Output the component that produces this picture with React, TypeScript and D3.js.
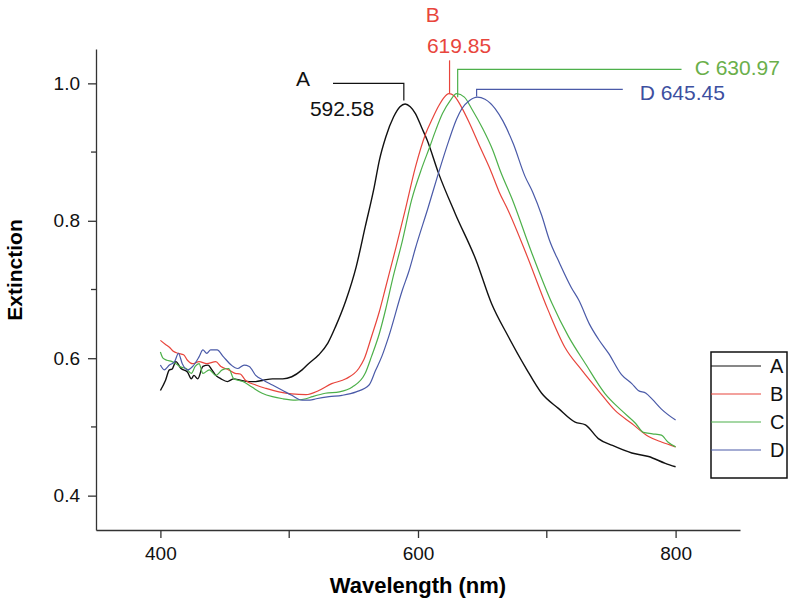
import React, { useEffect, useRef } from 'react';
import * as d3 from 'd3';

// spectra: [wavelength nm, extinction]
const seriesA: [number, number][] = [
  [400, 0.553], [404, 0.568], [407, 0.583], [409, 0.584], [412, 0.595], [416, 0.585],
  [421, 0.58], [424, 0.57], [426, 0.575], [429, 0.57], [433, 0.588], [437, 0.59],
  [440, 0.583], [443, 0.575], [447, 0.57], [452, 0.566], [457, 0.57], [462, 0.568],
  [469, 0.566], [474, 0.566], [480, 0.568], [487, 0.57], [495, 0.57], [502, 0.573],
  [510, 0.583], [515, 0.592], [523, 0.605], [530, 0.622], [536, 0.646], [544, 0.684],
  [552, 0.733], [559, 0.791], [566, 0.849], [570, 0.888], [575, 0.922], [581, 0.951],
  [586, 0.966], [590, 0.97], [594, 0.966], [598, 0.956], [603, 0.935], [607, 0.918],
  [616, 0.869], [629, 0.81], [645, 0.743], [657, 0.68], [670, 0.632], [684, 0.585],
  [696, 0.549], [709, 0.527], [722, 0.507], [730, 0.503], [740, 0.483], [751, 0.473],
  [766, 0.462], [779, 0.457], [792, 0.447], [800, 0.442]
];

const seriesB: [number, number][] = [
  [400, 0.626], [404, 0.62], [407, 0.616], [410, 0.61], [414, 0.607], [418, 0.605],
  [421, 0.597], [425, 0.592], [430, 0.595], [436, 0.592], [443, 0.595], [447, 0.588],
  [453, 0.583], [458, 0.578], [462, 0.577], [466, 0.568], [474, 0.561], [482, 0.556],
  [492, 0.551], [502, 0.548], [513, 0.547], [523, 0.553], [533, 0.563], [544, 0.57],
  [554, 0.585], [558, 0.598], [564, 0.632], [570, 0.668], [575, 0.704], [583, 0.762],
  [590, 0.815], [598, 0.878], [606, 0.927], [611, 0.948], [616, 0.967], [620, 0.979],
  [624, 0.985], [628, 0.982], [633, 0.968], [640, 0.942], [648, 0.908], [656, 0.875],
  [663, 0.842], [670, 0.815], [684, 0.752], [701, 0.67], [714, 0.616], [727, 0.583],
  [740, 0.553], [753, 0.524], [766, 0.505], [779, 0.486], [789, 0.478], [800, 0.471]
];

const seriesC: [number, number][] = [
  [400, 0.609], [402, 0.6], [405, 0.597], [409, 0.595], [412, 0.592], [416, 0.587],
  [420, 0.585], [424, 0.578], [427, 0.588], [430, 0.592], [433, 0.578], [438, 0.583],
  [443, 0.575], [448, 0.583], [453, 0.585], [457, 0.57], [464, 0.566], [471, 0.558],
  [479, 0.549], [487, 0.544], [495, 0.541], [505, 0.539], [513, 0.541], [518, 0.544],
  [528, 0.549], [539, 0.551], [549, 0.558], [559, 0.578], [564, 0.603], [570, 0.636],
  [575, 0.672], [580, 0.713], [588, 0.772], [595, 0.83], [603, 0.877], [609, 0.907],
  [614, 0.933], [619, 0.956], [625, 0.975], [630, 0.985], [636, 0.98], [642, 0.962],
  [650, 0.935], [658, 0.903], [664, 0.872], [673, 0.832], [688, 0.755], [704, 0.68],
  [717, 0.631], [730, 0.592], [745, 0.549], [758, 0.524], [769, 0.505], [775, 0.492],
  [782, 0.49], [789, 0.488], [794, 0.478], [800, 0.471]
];

const seriesD: [number, number][] = [
  [400, 0.59], [403, 0.583], [407, 0.59], [411, 0.595], [414, 0.607], [417, 0.592],
  [421, 0.583], [425, 0.588], [430, 0.602], [433, 0.612], [436, 0.607], [439, 0.612],
  [444, 0.612], [449, 0.602], [455, 0.59], [460, 0.585], [465, 0.59], [469, 0.588],
  [474, 0.575], [480, 0.568], [487, 0.561], [495, 0.553], [502, 0.546], [510, 0.539],
  [516, 0.539], [521, 0.541], [531, 0.544], [541, 0.546], [552, 0.551], [562, 0.561],
  [567, 0.582], [572, 0.603], [577, 0.63], [588, 0.7], [593, 0.727], [598, 0.76],
  [608, 0.82], [616, 0.87], [624, 0.917], [630, 0.948], [634, 0.963], [640, 0.975],
  [646, 0.98], [652, 0.977], [660, 0.963], [666, 0.945], [674, 0.912], [683, 0.865],
  [689, 0.842], [696, 0.808], [702, 0.772], [710, 0.738], [719, 0.703], [725, 0.684],
  [733, 0.65], [740, 0.628], [748, 0.607], [758, 0.576], [766, 0.563], [771, 0.553],
  [777, 0.549], [782, 0.54], [789, 0.526], [800, 0.51]
];

const seriesNames = ['A', 'B', 'C', 'D'];
const seriesColors = ['#111111', '#e8453c', '#4db04a', '#4a5aa8'];
const labelColors = ['#111111', '#e8453c', '#6aaf4a', '#3d4fa0'];

const xMajorTicks = [400, 600, 800];
const xMinorTicks = [500, 700];
const yMajorTicks = [0.4, 0.6, 0.8, 1.0];
const yMinorTicks = [0.5, 0.7, 0.9];

// peak call-outs, in data units
const peakLabels = [
  { name: 'A', peak: '592.58', anchor: 589, from: 0.975, level: 1.0, end: 534 },
  { name: 'B', peak: '619.85', anchor: 624.5, from: 0.9855, level: 1.0335, end: 624.5 },
  { name: 'C', peak: '630.97', anchor: 630.8, from: 0.9796, level: 1.0204, end: 804.6 },
  { name: 'D', peak: '645.45', anchor: 645.5, from: 0.981, level: 0.9913, end: 759 }
];

const W = 795;
const H = 607;
const FONT = '"Liberation Sans", Arial, sans-serif';

const App = () => {
  const ref = useRef<SVGSVGElement>(null);

  useEffect(() => {
    const svg = d3.select(ref.current);
    svg.selectAll('*').remove();

    const left = 96, right = 740, top = 49, bottom = 530;
    const x = d3.scaleLinear().domain([350, 850]).range([left, right]);
    const y = d3.scaleLinear().domain([0.35, 1.05]).range([bottom, top]);

    const axisColor = '#333';

    // x axis
    const gx = svg.append('g').attr('transform', `translate(0,${bottom})`);
    gx.call(
      d3.axisBottom(x).tickValues(xMajorTicks).tickFormat(d3.format('d'))
        .tickSize(8).tickSizeOuter(0).tickPadding(9)
    );
    xMinorTicks.forEach(t => {
      gx.append('line').attr('x1', x(t)).attr('x2', x(t)).attr('y1', 0).attr('y2', 8)
        .attr('stroke', axisColor).attr('stroke-width', 1.3);
    });

    // y axis
    const gy = svg.append('g').attr('transform', `translate(${left},0)`);
    gy.call(
      d3.axisLeft(y).tickValues(yMajorTicks).tickFormat(d3.format('.1f'))
        .tickSize(8).tickSizeOuter(0).tickPadding(8)
    );
    yMinorTicks.forEach(t => {
      gy.append('line').attr('x1', -5).attr('x2', 0).attr('y1', y(t)).attr('y2', y(t))
        .attr('stroke', axisColor).attr('stroke-width', 1.3);
    });

    [gx, gy].forEach(g => {
      g.select('.domain').attr('stroke', axisColor).attr('stroke-width', 1.3);
      g.selectAll('.tick line').attr('stroke', axisColor).attr('stroke-width', 1.3);
      g.selectAll('.tick text').attr('fill', '#111').style('font-family', FONT).style('font-size', '19px');
    });

    // axis titles
    svg.append('text')
      .attr('x', (left + right) / 2).attr('y', 593)
      .attr('text-anchor', 'middle')
      .style('font-family', FONT).style('font-size', '22px').style('font-weight', 'bold')
      .text('Wavelength (nm)');
    svg.append('text')
      .attr('transform', 'translate(22,270) rotate(-90)')
      .attr('text-anchor', 'middle')
      .style('font-family', FONT).style('font-size', '21px').style('font-weight', 'bold')
      .text('Extinction');

    // spectra
    const line = d3.line<[number, number]>()
      .x(d => x(d[0])).y(d => y(d[1]))
      .curve(d3.curveMonotoneX);
    const allSeries = [seriesA, seriesB, seriesC, seriesD];
    svg.append('g').selectAll('path')
      .data(allSeries)
      .join('path')
      .attr('d', d => line(d))
      .attr('fill', 'none')
      .attr('stroke', (d, i) => seriesColors[i])
      .attr('stroke-width', (d, i) => (i === 0 ? 1.4 : 1.2));

    // peak call-outs
    const ann = svg.append('g').style('font-family', FONT).style('font-size', '21px');
    peakLabels.forEach((p, i) => {
      const path = d3.path();
      if (p.name === 'A') {
        path.moveTo(x(p.end), y(p.level));
        path.lineTo(x(p.anchor), y(p.level));
        path.lineTo(x(p.anchor), y(p.from));
      } else {
        path.moveTo(x(p.anchor), y(p.from));
        path.lineTo(x(p.anchor), y(p.level));
        path.lineTo(x(p.end), y(p.level));
      }
      ann.append('path').attr('d', path.toString()).attr('fill', 'none')
        .attr('stroke', seriesColors[i]).attr('stroke-width', 1.2);
    });
    ann.append('text').attr('x', x(505.3)).attr('y', y(0.9956)).attr('fill', labelColors[0]).text('A');
    ann.append('text').attr('x', x(516.1)).attr('y', y(0.952)).attr('fill', labelColors[0]).text(peakLabels[0].peak);
    ann.append('text').attr('x', x(606.1)).attr('y', y(1.0887)).attr('fill', labelColors[1]).text('B');
    ann.append('text').attr('x', x(606.9)).attr('y', y(1.0436)).attr('fill', labelColors[1]).text(peakLabels[1].peak);
    ann.append('text').attr('x', x(814.8)).attr('y', y(1.0116)).attr('fill', labelColors[2])
      .text(`C ${peakLabels[2].peak}`);
    ann.append('text').attr('x', x(772.1)).attr('y', y(0.9753)).attr('fill', labelColors[3])
      .text(`D ${peakLabels[3].peak}`);

    // legend
    const lg = svg.append('g').attr('transform', 'translate(711,352)');
    lg.append('rect').attr('width', 76).attr('height', 126)
      .attr('fill', 'white').attr('stroke', '#111').attr('stroke-width', 1.5);
    seriesNames.forEach((n, i) => {
      const ly = 14 + i * 28;
      lg.append('line').attr('x1', 0).attr('x2', 50).attr('y1', ly).attr('y2', ly)
        .attr('stroke', seriesColors[i]).attr('stroke-width', 1.2);
      lg.append('text').attr('x', 59).attr('y', ly).attr('dy', '0.36em')
        .style('font-family', FONT).style('font-size', '20px').attr('fill', '#111').text(n);
    });
  }, []);

  return (
    <svg
      ref={ref}
      width={W}
      height={H}
      viewBox={`0 0 ${W} ${H}`}
      style={{ position: 'absolute', left: 0, top: 0, background: 'white' }}
    />
  );
};

export default App;
